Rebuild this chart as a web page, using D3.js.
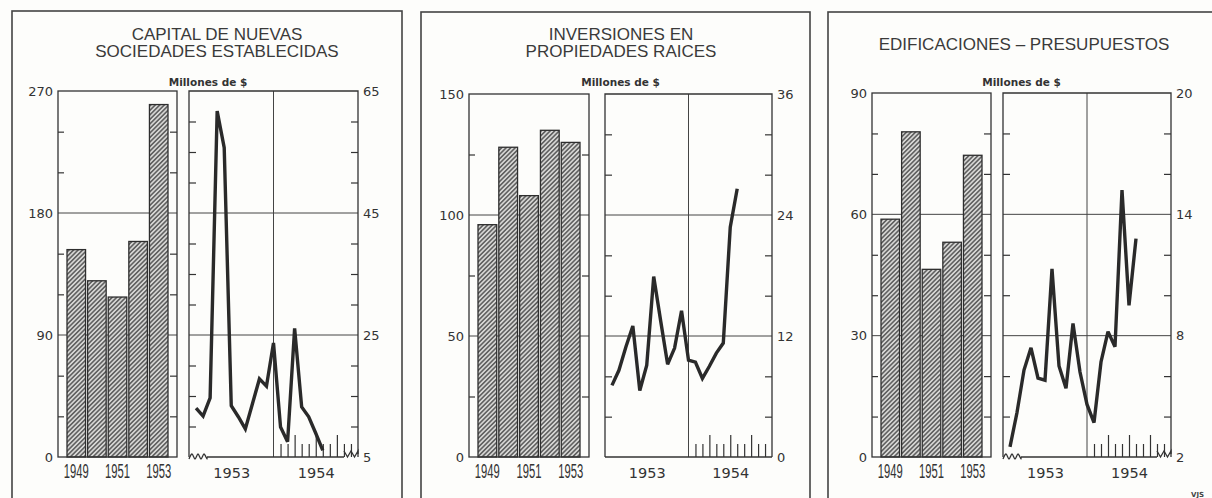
<!DOCTYPE html>
<html lang="es">
<head>
<meta charset="UTF-8">
<title>Capital, inversiones y edificaciones</title>
<script src="https://d3js.org/d3.v7.min.js"></script>
<style>
  body { margin: 0; background: #fdfdfb; }
  svg { display: block; }
  .titulo { font-family: "Liberation Sans", Arial, sans-serif; font-size: 17px; fill: #3a3a3a; text-anchor: middle; }
  .unidad { font-family: "DejaVu Sans", sans-serif; font-size: 10.5px; font-weight: bold; fill: #333; text-anchor: middle; }
  .eje text { font-family: "DejaVu Sans", sans-serif; font-size: 13px; fill: #333; }
  .eje path { display: none; }
  .eje line, .marca line { stroke: #333; stroke-width: 1.2; }
  .marco { stroke: #333; stroke-width: 1.3; fill: none; }
  .rejilla { stroke: #444; stroke-width: 1; }
  .anios text { font-family: "Liberation Sans Narrow", "Liberation Sans", sans-serif; font-size: 20px; fill: #333; }
  .meses text { font-family: "DejaVu Sans", sans-serif; font-size: 14.5px; fill: #333; }
</style>
</head>
<body>
<svg width="1212" height="498"></svg>

<script>
    // datos anuales (barras) y mensuales 1953-1954 (linea), millones de $
    const anios = ["1949", "1950", "1951", "1952", "1953"];
    const aniosRotulados = ["1949", "1951", "1953"];
    const mesesRotulos = ["1953", "1954"];

    const capitalAnual = [153, 130, 118, 159, 260];
    const capitalMensual = [13.0, 11.7, 14.7, 61.7, 55.7, 13.4, 11.6, 9.6, 13.7, 17.8, 16.6, 23.7,
                            9.9, 7.5, 26.1, 13.2, 11.6, 8.9, 6.1];

    const inversionesAnual = [96, 128, 108, 135, 130];
    const inversionesMensual = [7.1, 8.6, 10.9, 13.0, 6.6, 9.1, 17.9, 13.5, 9.2, 10.8, 14.5, 9.6,
                                9.4, 7.8, 9.0, 10.3, 11.3, 22.8, 26.6];

    const edificacionesAnual = [58.8, 80.4, 46.4, 53.1, 74.6];
    const edificacionesMensual = [2.5, 4.2, 6.3, 7.4, 5.9, 5.8, 11.3, 6.5, 5.4, 8.6, 6.2, 4.6,
                                  3.7, 6.7, 8.2, 7.45, 15.2, 9.5, 12.8];

    const paneles = [
        {
            titulo: ["CAPITAL DE NUEVAS", "SOCIEDADES ESTABLECIDAS"], anual: capitalAnual, mensual: capitalMensual,
            izq: [0, 270, 90, 30], der: [5, 65, 20, 5],
            caja: [12, 11, 402], barras: [58, 177], linea: [189, 358], arriba: 91, centro: 217, corte: true
        },
        {
            titulo: ["INVERSIONES EN", "PROPIEDADES RAICES"], anual: inversionesAnual, mensual: inversionesMensual,
            izq: [0, 150, 50, 25], der: [0, 36, 12, 4],
            caja: [421, 12, 810], barras: [469, 589], linea: [605, 772], arriba: 94, centro: 621, corte: false
        },
        {
            titulo: ["EDIFICACIONES – PRESUPUESTOS"], anual: edificacionesAnual, mensual: edificacionesMensual,
            izq: [0, 90, 30, 10], der: [2, 20, 6, 2],
            caja: [828, 12, 1240], barras: [872, 991], linea: [1003, 1171], arriba: 93, centro: 1024, corte: true
        }
    ];

    const svg = d3.select("svg");
    const abajo = 457;

    // rayado de las barras
    const pat = svg.append("defs").append("pattern")
        .attr("id", "rayado")
        .attr("patternUnits", "userSpaceOnUse")
        .attr("width", 3.2).attr("height", 3.2)
        .attr("patternTransform", "rotate(45)");
    pat.append("rect").attr("width", 3.2).attr("height", 3.2).attr("fill", "#d6d6d4");
    pat.append("line").attr("x1", 1.6).attr("x2", 1.6).attr("y1", 0).attr("y2", 3.2)
        .attr("stroke", "#474747").attr("stroke-width", 1.3);

    function serie(a, b, paso) {
        return d3.range(a, b + paso / 2, paso);
    }

    paneles.forEach(p => {
        const g = svg.append("g");

        // recuadro
        g.append("rect")
            .attr("x", p.caja[0]).attr("y", p.caja[1])
            .attr("width", p.caja[2] - p.caja[0]).attr("height", 520)
            .attr("fill", "none").attr("stroke", "#444").attr("stroke-width", 1.6);

        // titulo
        if (p.titulo.length === 2) {
            g.append("text").attr("class", "titulo").attr("x", p.centro).attr("y", 40).text(p.titulo[0]);
            g.append("text").attr("class", "titulo").attr("x", p.centro).attr("y", 57).text(p.titulo[1]);
        } else {
            g.append("text").attr("class", "titulo").attr("x", p.centro).attr("y", 50).text(p.titulo[0]);
        }
        g.append("text").attr("class", "unidad")
            .attr("x", (p.barras[0] + p.linea[1]) / 2).attr("y", 86)
            .text("Millones de $");

        const yB = d3.scaleLinear().domain([p.izq[0], p.izq[1]]).range([abajo, p.arriba]);
        const yL = d3.scaleLinear().domain([p.der[0], p.der[1]]).range([abajo, p.arriba]);
        const xB = d3.scaleBand().domain(anios)
            .range([p.barras[0] + 9, p.barras[1] - 9]).paddingInner(0.1);
        const xL = d3.scaleLinear().domain([0, 24]).range(p.linea);

        const mayB = serie(p.izq[0], p.izq[1], p.izq[2]);
        const menB = serie(p.izq[0], p.izq[1], p.izq[3]).filter(v => !mayB.includes(v));
        const mayL = serie(p.der[0], p.der[1], p.der[2]);
        const menL = serie(p.der[0], p.der[1], p.der[3]).filter(v => !mayL.includes(v));
        const interior = mayB.slice(1, -1);

        // rejilla horizontal en ambos marcos
        interior.forEach(v => {
            g.append("line").attr("class", "rejilla")
                .attr("x1", p.barras[0]).attr("x2", p.barras[1]).attr("y1", yB(v)).attr("y2", yB(v));
            g.append("line").attr("class", "rejilla")
                .attr("x1", p.linea[0]).attr("x2", p.linea[1]).attr("y1", yB(v)).attr("y2", yB(v));
        });
        // division 1953 / 1954
        g.append("line").attr("class", "rejilla")
            .attr("x1", xL(12)).attr("x2", xL(12)).attr("y1", p.arriba).attr("y2", abajo);

        // marcas menores hacia adentro
        g.append("g").attr("class", "eje").attr("transform", `translate(${p.barras[0]},0)`)
            .call(d3.axisRight(yB).tickValues(menB).tickSize(6).tickFormat(""));
        g.append("g").attr("class", "eje").attr("transform", `translate(${p.barras[1]},0)`)
            .call(d3.axisLeft(yB).tickValues(menB).tickSize(7).tickFormat(""));
        g.append("g").attr("class", "eje").attr("transform", `translate(${p.linea[0]},0)`)
            .call(d3.axisRight(yL).tickValues(menL).tickSize(7).tickFormat(""));
        g.append("g").attr("class", "eje").attr("transform", `translate(${p.linea[1]},0)`)
            .call(d3.axisLeft(yL).tickValues(menL).tickSize(7).tickFormat(""));

        // rotulos de los ejes
        g.append("g").attr("class", "eje").attr("transform", `translate(${p.barras[0]},0)`)
            .call(d3.axisLeft(yB).tickValues(mayB).tickSize(0).tickPadding(5))
            .attr("font-size", null).attr("font-family", null);
        g.append("g").attr("class", "eje").attr("transform", `translate(${p.linea[1]},0)`)
            .call(d3.axisRight(yL).tickValues(mayL).tickSize(0).tickPadding(5))
            .attr("font-size", null).attr("font-family", null);

        // barras
        g.append("g").selectAll("rect")
            .data(p.anual)
            .join("rect")
            .attr("x", (d, i) => xB(anios[i]))
            .attr("width", xB.bandwidth())
            .attr("y", d => yB(d))
            .attr("height", d => abajo - yB(d))
            .attr("fill", "url(#rayado)")
            .attr("stroke", "#2e2e2e")
            .attr("stroke-width", 1.3);

        // marcos
        g.append("rect").attr("class", "marco")
            .attr("x", p.barras[0]).attr("y", p.arriba)
            .attr("width", p.barras[1] - p.barras[0]).attr("height", abajo - p.arriba);
        g.append("path").attr("class", "marco")
            .attr("d", `M${p.linea[0]},${abajo}V${p.arriba}H${p.linea[1]}V${abajo}`);

        // base del grafico mensual, con corte ondulado
        const ini = p.corte ? p.linea[0] + 18 : p.linea[0];
        const fin = p.corte ? p.linea[1] - 14 : p.linea[1];
        g.append("line").attr("class", "marco")
            .attr("x1", ini).attr("x2", fin).attr("y1", abajo).attr("y2", abajo);
        if (p.corte) {
            const onda = d3.line().curve(d3.curveCatmullRom);
            const izqOnda = d3.range(0, 7).map(k => [p.linea[0] + k * 3, abajo + (k % 2 ? -3 : 2)]);
            izqOnda.push([ini, abajo]);
            g.append("path").attr("class", "marco").attr("d", onda(izqOnda));
            const derOnda = d3.range(0, 5).map(k => [fin + k * 3.5, abajo + (k % 2 ? 0 : -6)]);
            derOnda.push([p.linea[1], abajo - 3]);
            g.append("path").attr("class", "marco").attr("d", d3.line()(derOnda));
        }

        // marcas de los meses de 1954
        g.append("g").attr("class", "marca").attr("transform", `translate(0,${abajo})`)
            .call(d3.axisTop(xL).tickValues(d3.range(13, 24)).tickSize(13).tickFormat(""))
            .call(s => s.select(".domain").remove())
            .selectAll(".tick line")
            .attr("y2", d => [15, 18, 21].includes(d) ? -22 : -13);

        // anios bajo las barras
        g.append("g").attr("class", "anios").attr("transform", `translate(0,${abajo})`)
            .call(d3.axisBottom(xB).tickValues(aniosRotulados).tickSize(0).tickPadding(7))
            .attr("font-size", null).attr("font-family", null)
            .call(s => s.select(".domain").remove())
            .selectAll("text")
            .attr("textLength", 25).attr("lengthAdjust", "spacingAndGlyphs");

        // anios bajo la linea
        g.append("g").attr("class", "meses").attr("transform", `translate(0,${abajo})`)
            .call(d3.axisBottom(xL).tickValues([6, 18]).tickSize(0).tickPadding(11)
                .tickFormat((d, i) => mesesRotulos[i]))
            .attr("font-size", null).attr("font-family", null)
            .call(s => s.select(".domain").remove());

        // linea mensual
        g.append("path")
            .datum(p.mensual)
            .attr("fill", "none")
            .attr("stroke", "#2a2a2a")
            .attr("stroke-width", 3.4)
            .attr("stroke-linejoin", "miter")
            .attr("stroke-miterlimit", 3)
            .attr("d", d3.line().x((d, i) => xL(i + 1)).y(d => yL(d)));
    });

    svg.append("text")
        .attr("x", 1191).attr("y", 497)
        .attr("font-family", "DejaVu Sans").attr("font-size", 7).attr("font-weight", "bold").attr("fill", "#444")
        .text("VJS");
</script>
</body>
</html>
